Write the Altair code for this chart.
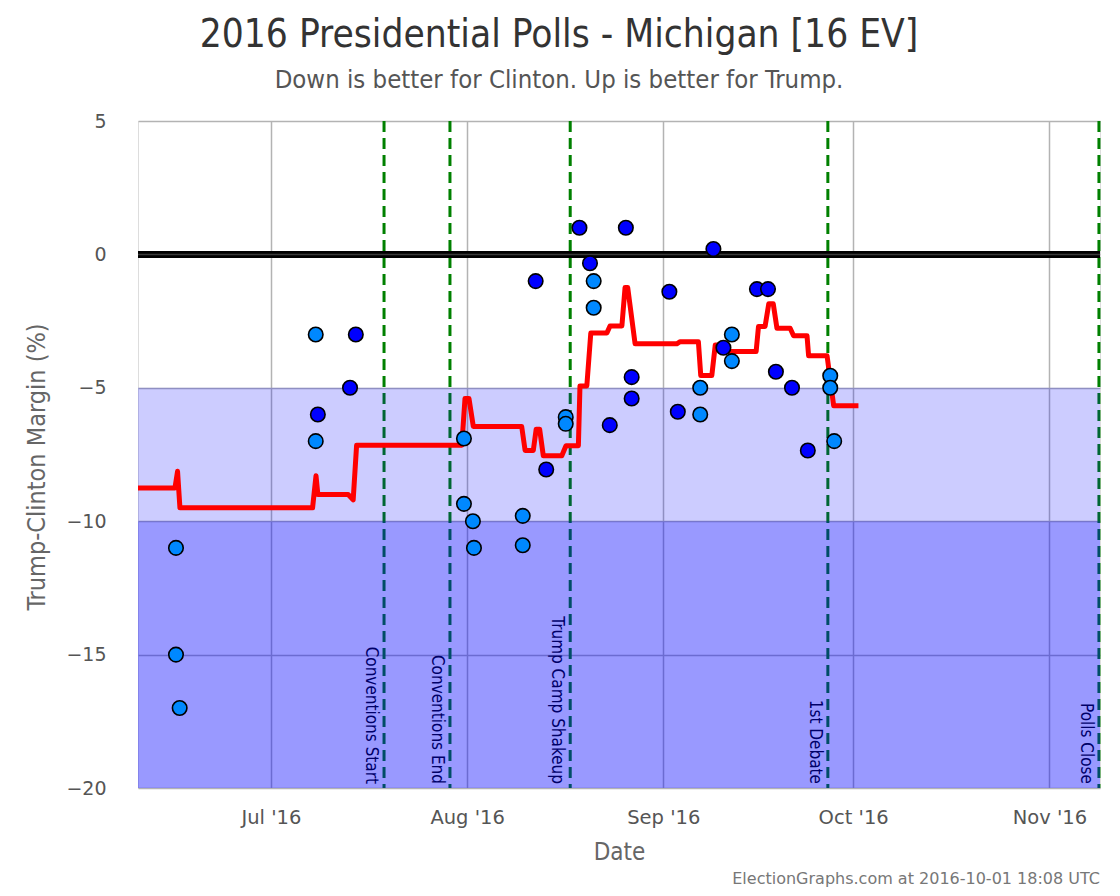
import altair as alt
import pandas as pd

# ---- data ----
poll_dates = [
    "2016-06-16T00:00", "2016-06-16T00:00", "2016-06-16T14:00",
    "2016-07-08T02:00", "2016-07-08T02:00", "2016-07-08T10:00",
    "2016-07-13T12:00", "2016-07-14T10:00",
    "2016-07-31T12:00", "2016-07-31T12:00", "2016-08-01T22:00", "2016-08-02T02:00",
    "2016-08-09T19:00", "2016-08-09T19:00", "2016-08-11T20:00", "2016-08-13T12:00",
    "2016-08-16T14:00", "2016-08-16T14:00", "2016-08-18T18:00", "2016-08-20T10:00",
    "2016-08-21T00:00", "2016-08-21T00:00", "2016-08-23T13:00", "2016-08-26T02:00",
    "2016-08-27T00:00", "2016-08-27T00:00", "2016-09-01T23:00", "2016-09-03T07:00",
    "2016-09-06T20:00", "2016-09-06T20:00", "2016-09-08T22:00", "2016-09-10T12:00",
    "2016-09-11T20:00", "2016-09-11T20:00", "2016-09-15T19:00", "2016-09-17T13:00",
    "2016-09-18T19:00", "2016-09-21T08:00", "2016-09-23T20:00",
    "2016-09-27T09:00", "2016-09-27T09:00", "2016-09-28T00:00",
]
poll_margins = [
    -11, -15, -17,
    -3, -7, -6,
    -5, -3,
    -6.9, -9.35, -10, -11,
    -9.8, -10.9, -1, -8.06,
    -6.1, -6.35, 1, -0.33,
    -1, -2, -6.4, 1,
    -4.6, -5.4, -1.4, -5.9,
    -5.0, -6.0, 0.2, -3.5,
    -3.0, -4.0, -1.3, -1.3,
    -4.4, -5.0, -7.35,
    -4.55, -5.0, -7.0,
]
poll_kind = [
    "L", "L", "L",
    "L", "L", "D",
    "D", "D",
    "L", "L", "L", "L",
    "L", "L", "D", "D",
    "L", "L", "D", "D",
    "L", "L", "D", "D",
    "D", "D", "D", "D",
    "L", "L", "D", "D",
    "L", "L", "D", "D",
    "D", "D", "D",
    "L", "L", "L",
]

avg_dates = [
    "2016-06-10T00:00", "2016-06-15T20:00", "2016-06-16T06:00", "2016-06-16T15:00",
    "2016-07-07T14:00", "2016-07-08T03:00", "2016-07-08T10:00", "2016-07-13T05:00",
    "2016-07-14T00:00", "2016-07-14T13:00", "2016-07-31T04:00", "2016-07-31T16:00",
    "2016-08-01T07:00", "2016-08-01T23:30", "2016-08-09T15:00", "2016-08-10T04:00",
    "2016-08-11T11:00", "2016-08-11T22:00", "2016-08-12T11:00", "2016-08-13T01:00",
    "2016-08-15T23:00", "2016-08-16T15:00", "2016-08-18T14:00", "2016-08-18T20:00",
    "2016-08-19T22:00", "2016-08-20T13:00", "2016-08-23T02:00", "2016-08-23T14:00",
    "2016-08-25T11:00", "2016-08-25T23:00", "2016-08-26T09:00", "2016-08-27T13:00",
    "2016-09-03T03:00", "2016-09-03T16:00", "2016-09-06T13:00", "2016-09-06T22:00",
    "2016-09-08T16:00", "2016-09-09T05:00", "2016-09-10T19:00", "2016-09-11T06:00",
    "2016-09-15T16:00", "2016-09-16T01:00", "2016-09-17T02:00", "2016-09-17T16:00",
    "2016-09-18T09:00", "2016-09-18T23:00", "2016-09-21T01:00", "2016-09-21T14:00",
    "2016-09-23T17:00", "2016-09-23T23:00", "2016-09-26T21:00", "2016-09-27T22:00",
    "2016-10-01T20:00",
]
avg_values = [
    -8.76, -8.76, -8.13, -9.5,
    -9.5, -8.3, -9.0, -9.0,
    -9.2, -7.15, -7.15, -5.4,
    -5.4, -6.45, -6.45, -7.35,
    -7.35, -6.55, -6.55, -7.55,
    -7.55, -7.17, -7.17, -4.93,
    -4.93, -2.95, -2.95, -2.68,
    -2.68, -1.24, -1.24, -3.35,
    -3.35, -3.27, -3.27, -4.54,
    -4.54, -3.4, -3.4, -3.64,
    -3.64, -2.7, -2.7, -1.85,
    -1.85, -2.77, -2.77, -3.05,
    -3.05, -3.8, -3.8, -5.67,
    -5.67,
]

event_dates = ["2016-07-18T21:00", "2016-07-29T07:00", "2016-08-17T07:00",
               "2016-09-27T00:00", "2016-11-08T20:00"]
event_labels = ["Conventions Start", "Conventions End", "Trump Camp Shakeup",
                "1st Debate", "Polls Close"]

band_top = [-5, -10]
band_bottom = [-10, -20]
band_opacity = [0.2, 0.4]

x_tick_months = [7, 8, 9, 10, 11]
y_ticks = [5, 0, -5, -10, -15, -20]
y_domain = [-20, 5]

title_text = "2016 Presidential Polls - Michigan [16 EV]"
subtitle_text = "Down is better for Clinton. Up is better for Trump."
footer_text = "ElectionGraphs.com at 2016-10-01 18:08 UTC"

# ---- tables ----
polls = pd.DataFrame({"date": poll_dates, "margin": poll_margins, "kind": poll_kind})
avg = pd.DataFrame({"date": avg_dates, "margin": avg_values})
events = pd.DataFrame({"date": event_dates, "label": event_labels, "bottom": -20})
bands = pd.DataFrame({"top": band_top, "bottom": band_bottom, "op": band_opacity})

W, H = 962, 667
COND = "DejaVu Sans Condensed"
SANS = "DejaVu Sans"

x_scale = alt.Scale(domain=[alt.DateTime(year=2016, month=6, date=10),
                            alt.DateTime(year=2016, month=11, date=9)], nice=False)
y_scale = alt.Scale(domain=y_domain, nice=False)

x_axis = alt.Axis(
    values=[alt.DateTime(year=2016, month=m, date=1) for m in x_tick_months],
    format="%b '%y", labelFontSize=19.5, labelColor="#555", labelFont=SANS,
    grid=True, gridColor="#b3b3b3", gridWidth=1.5, domain=False, ticks=False,
    labelPadding=20, title="Date", titleFont=COND, titleFontSize=24,
    titleFontWeight="normal", titleColor="#666", titlePadding=14,
)
y_axis = alt.Axis(
    values=y_ticks, labelFontSize=19, labelColor="#555", labelFont=SANS,
    grid=True, gridColor="#b3b3b3", gridWidth=1.5, domain=False, ticks=False,
    labelPadding=32, title="Trump-Clinton Margin (%)", titleFont=COND,
    titleFontSize=25, titleFontWeight="normal", titleColor="#666", titlePadding=16,
    titleY=H / 2 + 12,
)

base_x = alt.X("date:T", scale=x_scale, axis=x_axis)

event_rules = alt.Chart(events).mark_rule(
    color="#008000", strokeWidth=3, strokeDash=[11, 6]
).encode(x=base_x)

event_text = alt.Chart(events).mark_text(
    angle=90, align="right", baseline="top", dx=-4, dy=5,
    font=COND, fontSize=17, color="#000000"
).encode(
    x=base_x,
    y=alt.Y("bottom:Q", scale=y_scale, axis=y_axis),
    text="label:N",
)

band_layer = alt.Chart(bands).mark_rect(color="#0000FF").encode(
    y=alt.Y("top:Q", scale=y_scale, axis=y_axis),
    y2="bottom:Q",
    opacity=alt.Opacity("op:Q", scale=None, legend=None),
)

zero_line = alt.Chart(pd.DataFrame({"v": [0]})).mark_rule(
    color="black", strokeWidth=7
).encode(y=alt.Y("v:Q", scale=y_scale, axis=y_axis))
zero_mid = alt.Chart(pd.DataFrame({"v": [0]})).mark_rule(
    color="#3a3a3a", strokeWidth=1.5
).encode(y=alt.Y("v:Q", scale=y_scale, axis=y_axis))

avg_line = alt.Chart(avg).mark_line(
    color="#FF0000", strokeWidth=5, strokeJoin="round"
).encode(
    x=base_x,
    y=alt.Y("margin:Q", scale=y_scale, axis=y_axis),
)

points = alt.Chart(polls).mark_circle(
    size=210, stroke="black", strokeWidth=1.6, opacity=1
).encode(
    x=base_x,
    y=alt.Y("margin:Q", scale=y_scale, axis=y_axis),
    color=alt.Color("kind:N", scale=alt.Scale(domain=["D", "L"],
                                              range=["#0000FF", "#0088FF"]),
                    legend=None),
)

footer = alt.Chart(pd.DataFrame({"t": [footer_text]})).mark_text(
    align="right", baseline="middle", font=SANS, fontSize=16, color="#777"
).encode(x=alt.value(W), y=alt.value(H + 91), text="t:N")

chart = alt.layer(
    event_rules, event_text, band_layer, zero_line, zero_mid, avg_line, points, footer
).properties(
    width=W, height=H,
    title=alt.TitleParams(
        text=title_text, subtitle=subtitle_text, anchor="middle", dx=-60,
        font=COND, fontSize=38.5, fontWeight="normal", color="#333",
        subtitleFont=COND, subtitleFontSize=25.5, subtitleColor="#555",
        subtitlePadding=12, offset=18,
    ),
    autosize=alt.AutoSizeParams(type="none"),
    padding={"left": 130, "top": 113, "right": 10, "bottom": 108},
).configure_view(stroke=None).configure(background="white")

chart.save("out.html", embed_options={"renderer": "svg", "actions": False})
